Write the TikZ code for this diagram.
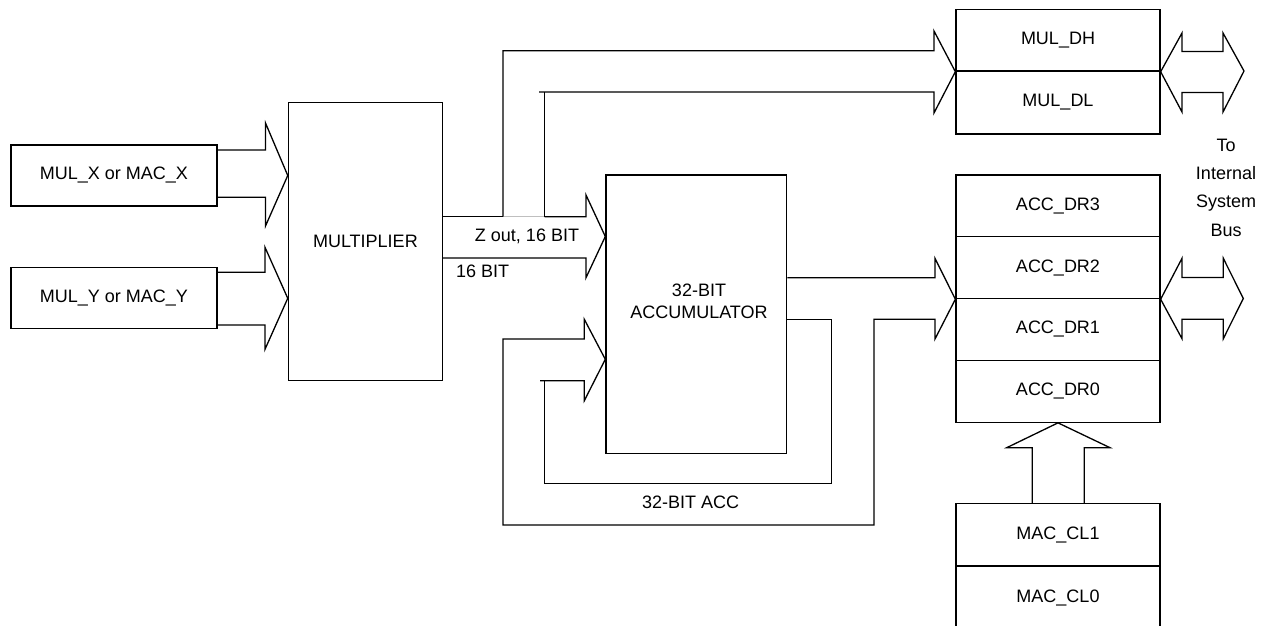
\documentclass[tikz,border=0pt]{standalone}
\usepackage{fontspec}
\setmainfont{Liberation Sans}
\begin{document}
\begin{tikzpicture}[x=1pt,y=-1pt,line join=miter,
  reg/.style={draw=black,line width=1.3pt,inner sep=0pt,font=\fontsize{18}{22}\selectfont},
  lbl/.style={inner sep=0pt,font=\fontsize{18}{22}\selectfont},
  bus/.style={draw=black,line width=1.3pt}]
\useasboundingbox (0,0) rectangle (1270,626);
\clip (0,0) rectangle (1270,626);
% input registers
\node[reg,minimum width=206pt,minimum height=61pt] (mulx) at (114,175.5) {MUL\_X or MAC\_X};
\node[reg,minimum width=206pt,minimum height=61pt] (muly) at (114,297.8) {MUL\_Y or MAC\_Y};
% multiplier and accumulator
\node[reg,minimum width=154pt,minimum height=277.5pt] (mult) at (365.4,241.4) {MULTIPLIER};
\node[reg,minimum width=180.7pt,minimum height=278.3pt] (acc) at (696.3,314.2) {};
\node[lbl,align=center,font=\fontsize{18}{21.7}\selectfont] (acctxt) at (699,301) {32-BIT\\ACCUMULATOR};
% MUL_D registers
\node[reg,minimum width=204pt,minimum height=61.7pt] (muldh) at (1058,40.2) {MUL\_DH};
\node[reg,minimum width=204pt,minimum height=63pt] (muldl) at (1058,102.5) {MUL\_DL};
% ACC_DR registers
\node[reg,minimum width=204pt,minimum height=61.8pt] (dr3) at (1058,205.9) {ACC\_DR3};
\node[reg,minimum width=204pt,minimum height=61.8pt] (dr2) at (1058,267.7) {ACC\_DR2};
\node[reg,minimum width=204pt,minimum height=61.8pt] (dr1) at (1058,329.5) {ACC\_DR1};
\node[reg,minimum width=204pt,minimum height=61.8pt] (dr0) at (1058,391.3) {ACC\_DR0};
% MAC_CL registers
\node[reg,minimum width=204pt,minimum height=62.7pt] (cl1) at (1058,534.6) {MAC\_CL1};
\node[reg,minimum width=204pt,minimum height=64pt] (cl0) at (1058,598) {MAC\_CL0};
% labels
\node[lbl] (zout) at (527,236) {Z out, 16 BIT};
\node[lbl] (bit16) at (482.7,271.7) {16 BIT};
\node[lbl] (accl) at (690.7,502.3) {32-BIT ACC};
\node[lbl,align=center,font=\fontsize{18}{28.3}\selectfont] (sysbus) at (1226,187.5) {To\\Internal\\System\\Bus};
% input arrows into multiplier
\draw[bus] (217,150) -- (265.5,150) -- (265.5,123) -- (mult.west |- 0,175.5) -- (265.5,226) -- (265.5,197.3) -- (217,197.3);
\draw[bus] (217,272.3) -- (265,272.3) -- (265,247.3) -- (mult.west |- 0,298.3) -- (265,349.3) -- (265,325) -- (217,325);
% Z out arrow to accumulator
\coordinate (j1) at (503,216.7);
\coordinate (j2) at (544.5,216.7);
\draw[bus] (442.3,216.7) -- (j1);
\draw[line width=1.3pt,black!25] (j1) -- (j2);
\draw[bus] (j2) -- (586,216.7) -- (586,195) -- (acc.west |- 0,236.5) -- (586,277.7) -- (586,258) -- (442.3,258);
% branches to MUL_DH / MUL_DL
\draw[bus] (j1) -- (503,50.7) -- (934,50.7) -- (934,31) -- (muldh.south west) -- (934,113) -- (934,92) -- (539,92);
\draw[bus] (544.5,92) -- (j2);
% bidirectional bus arrows
\draw[bus] (muldh.south east) -- (1182,33) -- (1182,51.5) -- (1223,51.5) -- (1223,33) -- (1244,71) -- (1223,112) -- (1223,92.5) -- (1182,92.5) -- (1182,112) -- cycle;
\draw[bus] (dr2.south east) -- (1182,258.3) -- (1182,277.5) -- (1223.3,277.5) -- (1223.3,258.3) -- (1243.3,298.5) -- (1223.3,338.7) -- (1223.3,319.3) -- (1182,319.3) -- (1182,338.7) -- cycle;
% accumulator output to ACC_DR and outer feedback
\draw[bus] (acc.east |- 0,277.7) -- (935,277.7) -- (935,258.3) -- (dr2.south west) -- (935,339) -- (935,319.3) -- (874,319.3) -- (874,525) -- (503,525) -- (503,339) -- (584.3,339) -- (584.3,319.3) -- (acc.west |- 0,359.3) -- (584.3,400.7) -- (584.3,380.7) -- (540,380.7);
% inner feedback
\draw[bus] (acc.east |- 0,319.3) -- (831.7,319.3) -- (831.7,483.3) -- (544.3,483.3) -- (544.3,380.7);
% MAC_CL to ACC_DR0 arrow
\draw[bus] (1032.3,503.3) -- (1032.3,447.7) -- (1006.7,447.7) -- (dr0.south) -- (1110,447.7) -- (1084.3,447.7) -- (1084.3,503.3);
\end{tikzpicture}
\end{document}
